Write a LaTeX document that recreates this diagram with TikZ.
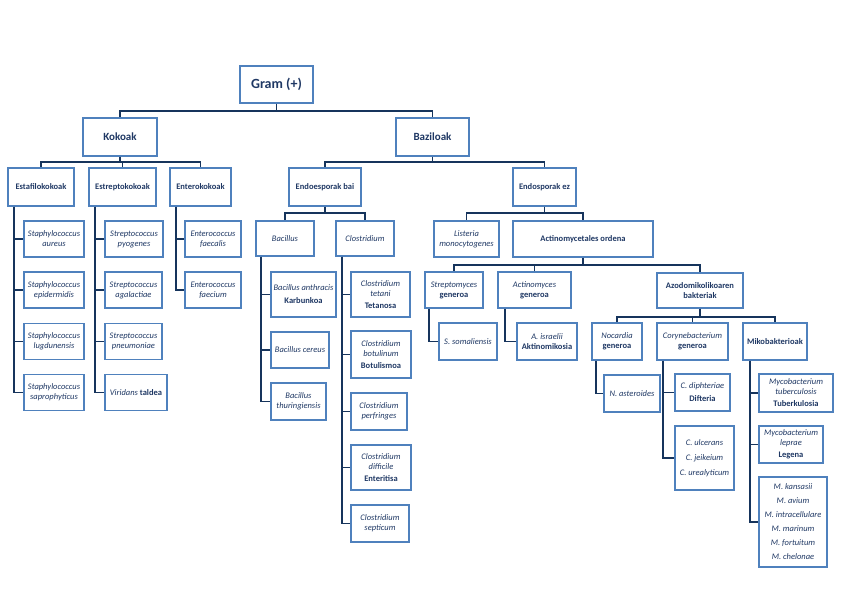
\documentclass[tikz,border=0pt]{standalone}
\usepackage{fontspec}
\setmainfont{Carlito}
\usetikzlibrary{positioning}
\definecolor{boxblue}{RGB}{79,129,189}
\definecolor{linknavy}{RGB}{22,52,92}
\definecolor{textblue}{RGB}{31,56,100}

\begin{document}
\begin{tikzpicture}[
    x=1pt, y=-1pt,
    every node/.style={font=\fontsize{8.5}{10}\selectfont, text=textblue},
    box/.style={rectangle, draw=boxblue, line width=1.6pt, fill=white, align=center, inner sep=1pt},
    group/.style={box, font=\fontsize{8.5}{10}\selectfont\bfseries},
    taxon/.style={box, font=\fontsize{8.5}{10}\selectfont\itshape},
    sz/.style 2 args={minimum width=#1pt, minimum height=#2pt},
    link/.style={draw=linknavy, line width=1.8pt}
]
\useasboundingbox (0,0) rectangle (848,599);
% top levels
\node[group, sz={73}{37}, font=\fontsize{14}{16}\selectfont\bfseries] (gram) at (276.5,84.5) {Gram (+)};
\node[group, sz={74}{38}, font=\fontsize{11}{13}\selectfont\bfseries] (kokoak) at (120,137) {Kokoak};
\node[group, sz={73}{38}, font=\fontsize{11}{13}\selectfont\bfseries] (baziloak) at (432.5,137) {Baziloak};
\node[group, sz={66}{38}] (estafilo) at (41,187) {Estafilokokoak};
\node[group, sz={67}{38}] (estrepto) at (122.5,187) {Estreptokokoak};
\node[group, sz={61}{38}] (entero) at (200.5,187) {Enterokokoak};
\node[group, sz={72}{38}] (endobai) at (325,187) {Endoesporak bai};
\node[group, sz={63}{38}] (endoez) at (544.5,187) {Endosporak ez};
% kokoak
\node[taxon, sz={60}{36}] (saureus) at (54,239) {Staphylococcus\\aureus};
\node[taxon, sz={60}{36}] (sepider) at (54,290) {Staphylococcus\\epidermidis};
\node[taxon, sz={60}{36}] (slugdun) at (54,341.5) {Staphylococcus\\lugdunensis};
\node[taxon, sz={60}{36}] (ssaproph) at (54,392.5) {Staphylococcus\\saprophyticus};
\node[taxon, sz={58}{36}] (spyogen) at (134,239) {Streptococcus\\pyogenes};
\node[taxon, sz={57}{36}] (sagalac) at (133.5,290) {Streptococcus\\agalactiae};
\node[taxon, sz={57}{36}] (spneumo) at (133.5,341.5) {Streptococcus\\pneumoniae};
\node[taxon, sz={62}{36}] (viridans) at (136,392.5) {Viridans \textbf{\upshape taldea}};
\node[taxon, sz={56}{36}] (efaecal) at (213,239) {Enterococcus\\faecalis};
\node[taxon, sz={56}{36}] (efaeciu) at (213,290) {Enterococcus\\faecium};
% endosporak bai
\node[taxon, sz={58}{35}] (bacillus) at (285,238.5) {Bacillus};
\node[taxon, sz={58}{35}] (clostri) at (365,238.5) {Clostridium};
\node[taxon, sz={65}{45}] (banthra) at (303.5,294.5) {Bacillus anthracis\\[3pt]\textbf{\upshape Karbunkoa}};
\node[taxon, sz={58}{36}] (bcereus) at (300,350) {Bacillus cereus};
\node[taxon, sz={55}{37}] (bthurin) at (298.5,401.5) {Bacillus\\thuringiensis};
\node[taxon, sz={59}{45}] (ctetani) at (380.5,294.5) {Clostridium\\tetani\\[2pt]\textbf{\upshape Tetanosa}};
\node[taxon, sz={60}{47}] (cbotuli) at (381,354.5) {Clostridium\\botulinum\\[2pt]\textbf{\upshape Botulismoa}};
\node[taxon, sz={56}{37}] (cperfri) at (379,411.5) {Clostridium\\perfringes};
\node[taxon, sz={60}{45}] (cdiffic) at (381,467.5) {Clostridium\\difficile\\[2pt]\textbf{\upshape Enteritisa}};
\node[taxon, sz={58}{37}] (csepti) at (380,523.5) {Clostridium\\septicum};
% endosporak ez
\node[taxon, sz={65}{36}] (listeria) at (466.5,239) {Listeria\\monocytogenes};
\node[group, sz={140}{36}] (actino) at (583,239) {Actinomycetales ordena};
\node[taxon, sz={58}{36}] (strmyc) at (454,290) {Streptomyces\\\textbf{\upshape generoa}};
\node[taxon, sz={73}{36}] (actmyc) at (534.5,290) {Actinomyces\\\textbf{\upshape generoa}};
\node[group, sz={86}{35}] (azodo) at (700,290.5) {Azodomikolikoaren\\bakteriak};
\node[taxon, sz={58}{37}] (ssomal) at (468,341.5) {S. somaliensis};
\node[taxon, sz={60}{37}] (aisrae) at (547,341.5) {A. israelii\\\textbf{\upshape Aktinomikosia}};
% azodomikolikoaren bakteriak
\node[taxon, sz={50}{37}] (nocardia) at (617,341.5) {Nocardia\\\textbf{\upshape generoa}};
\node[taxon, sz={71}{37}] (coryne) at (692.5,341.5) {Corynebacterium\\\textbf{\upshape generoa}};
\node[group, sz={64}{37}] (mikobak) at (775,341.5) {Mikobakterioak};
\node[taxon, sz={56}{37}] (nastero) at (632,393.5) {N. asteroides};
\node[taxon, sz={55}{37}] (cdipht) at (702.5,392.5) {C. diphteriae\\[3pt]\textbf{\upshape Difteria}};
\node[taxon, sz={59}{64}, font=\fontsize{8.5}{15}\selectfont\itshape] (culcer) at (704.5,458) {C. ulcerans\\C. jeikeium\\C. urealyticum};
\node[taxon, sz={74}{38}] (mtuberc) at (796,393) {Mycobacterium\\tuberculosis\\[2pt]\textbf{\upshape Tuberkulosia}};
\node[taxon, sz={64}{37}] (mleprae) at (791,444.5) {Mycobacterium\\leprae\\[2pt]\textbf{\upshape Legena}};
\node[taxon, sz={68}{90}, font=\fontsize{8.5}{14}\selectfont\itshape] (mkansas) at (793,522) {M. kansasii\\M. avium\\M. intracellulare\\M. marinum\\M. fortuitum\\M. chelonae};
% top-down connectors
\foreach \c in {kokoak,baziloak} \draw[link] (gram.south) -- ++(0,7) -| (\c.north);
\foreach \c in {estafilo,estrepto,entero} \draw[link] (kokoak.south) -- ++(0,5) -| (\c.north);
\foreach \c in {endobai,endoez} \draw[link] (baziloak.south) -- ++(0,5) -| (\c.north);
\foreach \c in {bacillus,clostri} \draw[link] (endobai.south) -- ++(0,6) -| (\c.north);
\foreach \c in {listeria,actino} \draw[link] (endoez.south) -- ++(0,6) -| (\c.north);
\foreach \c in {strmyc,actmyc,azodo} \draw[link] (actino.south) -- ++(0,7) -| (\c.north);
\foreach \c in {nocardia,coryne,mikobak} \draw[link] (azodo.south) -- ++(0,8) -| (\c.north);
% side stems
\foreach \c in {saureus,sepider,slugdun,ssaproph} \draw[link] ([xshift=7pt]estafilo.south west) |- (\c.west);
\foreach \c in {spyogen,sagalac,spneumo,viridans} \draw[link] ([xshift=7pt]estrepto.south west) |- (\c.west);
\foreach \c in {efaecal,efaeciu} \draw[link] ([xshift=7pt]entero.south west) |- (\c.west);
\foreach \c in {banthra,bcereus,bthurin} \draw[link] ([xshift=6pt]bacillus.south west) |- (\c.west);
\foreach \c in {ctetani,cbotuli,cperfri,cdiffic,csepti} \draw[link] ([xshift=7pt]clostri.south west) |- (\c.west);
\draw[link] ([xshift=5pt]strmyc.south west) |- (ssomal.west);
\draw[link] ([xshift=8pt]actmyc.south west) |- (aisrae.west);
\draw[link] ([xshift=5pt]nocardia.south west) |- (nastero.west);
\foreach \c in {cdipht,culcer} \draw[link] ([xshift=7pt]coryne.south west) |- (\c.west);
\foreach \c in {mtuberc,mleprae,mkansas} \draw[link] ([xshift=8pt]mikobak.south west) |- (\c.west);
\end{tikzpicture}
\end{document}
